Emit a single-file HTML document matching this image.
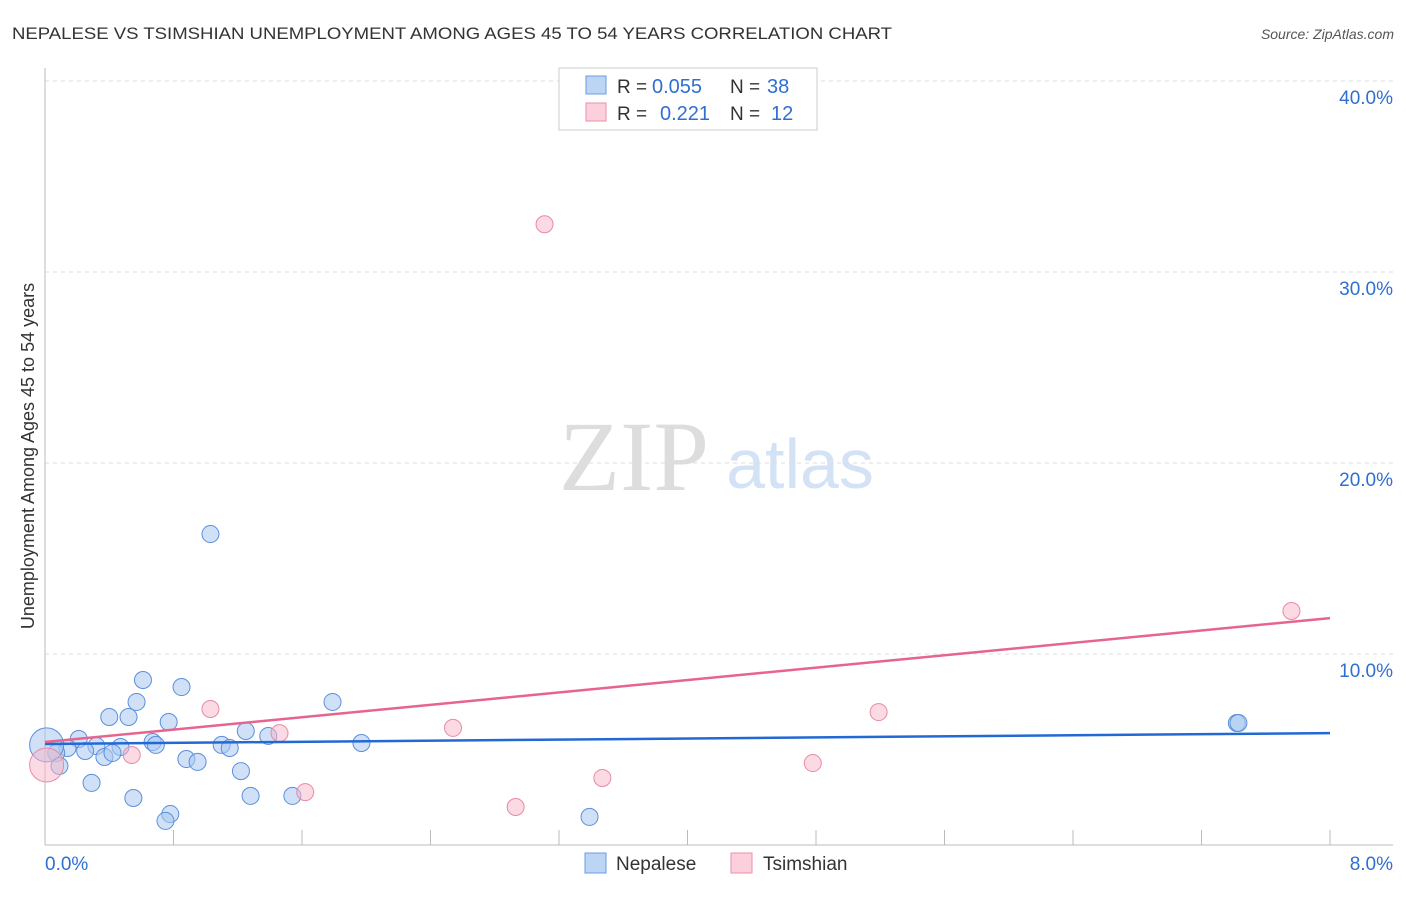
<!DOCTYPE html>
<html><head><meta charset="utf-8"><style>
body{margin:0;background:#fff;font-family:"Liberation Sans",sans-serif;}
</style></head><body>
<svg id="c" width="1406" height="892" xmlns="http://www.w3.org/2000/svg" font-family="Liberation Sans, sans-serif">
<text x="12" y="39" font-size="17" fill="#333" textLength="880" lengthAdjust="spacingAndGlyphs">NEPALESE VS TSIMSHIAN UNEMPLOYMENT AMONG AGES 45 TO 54 YEARS CORRELATION CHART</text>
<text x="1394" y="39" font-size="14" fill="#555" font-style="italic" text-anchor="end">Source: ZipAtlas.com</text>
<text x="634" y="490" font-size="100" fill="#ddd" style="font-family:'Liberation Serif',serif" text-anchor="middle">ZIP</text>
<text x="800" y="488" font-size="70" fill="#d4e2f5" text-anchor="middle">atlas</text>
<text transform="translate(34,456) rotate(-90)" font-size="18" fill="#333" text-anchor="middle">Unemployment Among Ages 45 to 54 years</text>
<g id="grid"></g><g id="pts"></g><g id="lines"></g>
<g>
<rect x="559" y="68" width="258" height="62" fill="#fff" stroke="#ccc"/>
<rect x="586" y="76" width="20" height="18" fill="#bcd5f5" stroke="#6b9be0"/>
<text x="617" y="93" font-size="19" fill="#333">R =</text>
<text x="652" y="93" font-size="20" fill="#2f6fd1">0.055</text>
<text x="730" y="93" font-size="19" fill="#333">N =</text>
<text x="767" y="93" font-size="20" fill="#2f6fd1">38</text>
<rect x="586" y="103" width="20" height="18" fill="#fbcfdc" stroke="#eb8fab"/>
<text x="617" y="120" font-size="19" fill="#333">R =</text>
<text x="660" y="120" font-size="20" fill="#2f6fd1">0.221</text>
<text x="730" y="120" font-size="19" fill="#333">N =</text>
<text x="771" y="120" font-size="20" fill="#2f6fd1">12</text>
</g>
<g>
<rect x="585" y="853" width="21" height="20" fill="#bcd5f5" stroke="#6b9be0"/>
<text x="616" y="870" font-size="19" fill="#333">Nepalese</text>
<rect x="731" y="853" width="21" height="20" fill="#fbcfdc" stroke="#eb8fab"/>
<text x="763" y="870" font-size="19" fill="#333">Tsimshian</text>
</g>
</svg>
<script>
const yTicks=[10,20,30,40];
const yTickLabels=["10.0%","20.0%","30.0%","40.0%"];
const xTickLabels=["0.0%","8.0%"];
const blueX=[0.61,0.85,0.57,0.40,0.52,0.77,1.79,1.25,1.39,0.21,0.32,0.47,0.67,0.69,1.10,1.15,1.97,0.14,0.25,0.37,0.42,0.88,0.95,1.22,0.07,0.09,0.29,0.55,1.28,1.54,0.78,0.75,1.03,3.39,7.42,7.43,0.01];
const blueY=[8.64,8.27,7.49,6.70,6.70,6.44,7.49,5.97,5.71,5.55,5.18,5.13,5.39,5.24,5.24,5.08,5.34,5.08,4.92,4.61,4.82,4.50,4.35,3.87,4.82,4.14,3.25,2.46,2.57,2.57,1.62,1.26,16.28,1.47,6.39,6.39,5.24];
const pinkX=[1.03,1.46,0.54,1.62,3.11,2.54,2.93,3.47,4.78,5.19,7.76,0.01];
const pinkY=[7.12,5.86,4.71,2.77,32.5,6.13,1.99,3.51,4.29,6.96,12.25,4.19];
const blueTrend=[5.29,5.86];
const pinkTrend=[5.39,11.88];
const NS="http://www.w3.org/2000/svg";
const X=v=>45+v/8*1285, Y=v=>845-v*19.1;
function mk(t,a,p){const e=document.createElementNS(NS,t);for(const k in a)e.setAttribute(k,a[k]);p.appendChild(e);return e;}
const g=document.getElementById('grid');
yTicks.forEach((t,i)=>{
 const l=mk('line',{x1:45,x2:1393,y1:Y(t),y2:Y(t),stroke:'#ddd','stroke-dasharray':'4,4'},g);
 
 
 const tx=mk('text',{x:1393,y:Y(t)+23,'font-size':19,fill:'#2f6fd1','text-anchor':'end'},g);tx.textContent=yTickLabels[i];
 
 
});
mk('line',{x1:45,x2:45,y1:68,y2:845,stroke:'#bbb'},g);
mk('line',{x1:45,x2:1393,y1:845,y2:845,stroke:'#bbb'},g);
for(let i=0;i<=10;i++){const t=mk('line',{x1:X(i*0.8),x2:X(i*0.8),y1:830,y2:845,stroke:'#bbb'},g);
 
 }
[[0,'start',45],[8,'end',1393]].forEach((d,i)=>{const tx=mk('text',{x:d[2],y:870,'font-size':19,fill:'#2f6fd1','text-anchor':d[1]},g);tx.textContent=xTickLabels[i];
 
 });
const p=document.getElementById('pts');
blueX.forEach((x,i)=>{const big=i===blueX.length-1;const c=mk('circle',{cx:X(x),cy:Y(blueY[i]),r:big?17:8.5,fill:'#a9c8f0','fill-opacity':0.55,stroke:'#5b8fdc','stroke-width':1},p);
 
 });
pinkX.forEach((x,i)=>{const big=i===pinkX.length-1;const c=mk('circle',{cx:X(x),cy:Y(pinkY[i]),r:big?17:8.5,fill:'#f7b6c8','fill-opacity':0.5,stroke:'#e88aa5','stroke-width':1},p);
 
 });
const L=document.getElementById('lines');
const tb=mk('line',{x1:X(0),x2:X(8),y1:Y(blueTrend[0]),y2:Y(blueTrend[1]),stroke:'#2369d6','stroke-width':2.5},L);


const tp=mk('line',{x1:X(0),x2:X(8),y1:Y(pinkTrend[0]),y2:Y(pinkTrend[1]),stroke:'#e6648e','stroke-width':2.5},L);


</script>
</body></html>
